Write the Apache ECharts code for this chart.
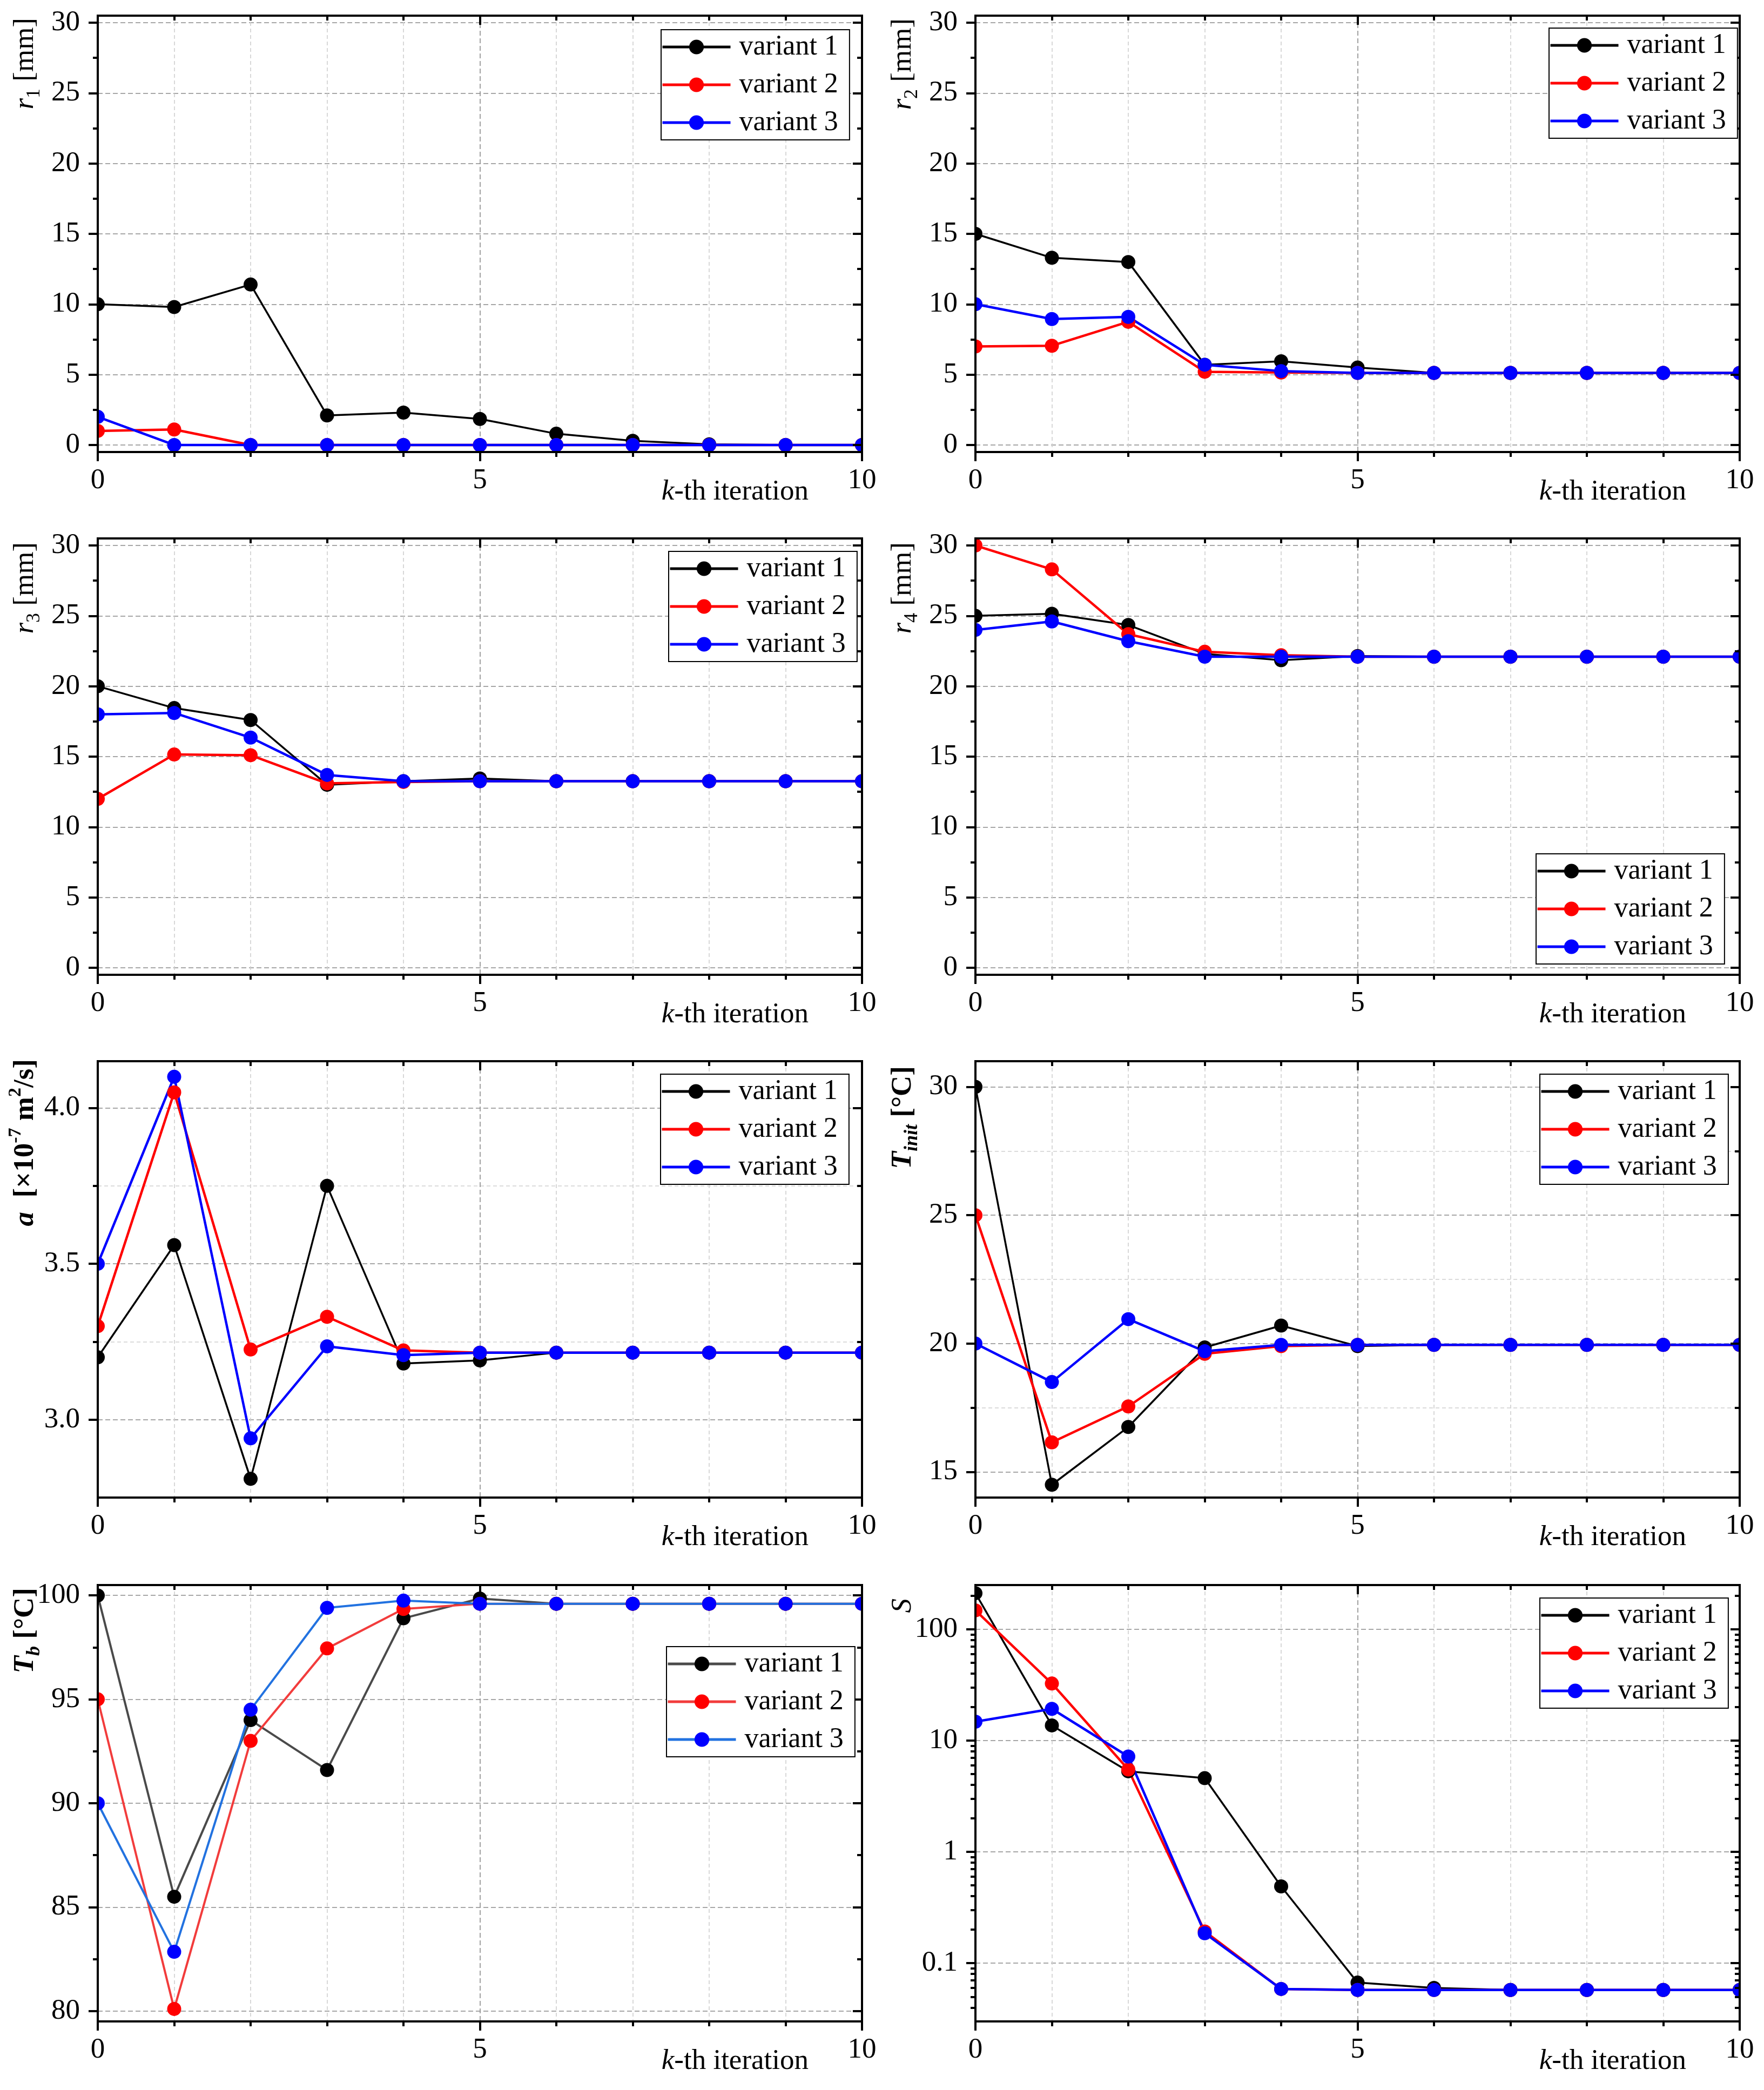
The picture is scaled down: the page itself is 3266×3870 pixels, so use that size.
<!DOCTYPE html>
<html>
<head>
<meta charset="utf-8">
<script src="https://cdn.jsdelivr.net/npm/echarts@6.0.0/dist/echarts.min.js"></script>
<style>
html,body{margin:0;padding:0;background:#ffffff;}
#chart{width:3266px;height:3870px;}
</style>
</head>
<body>
<div id="chart"></div>
<script>
// ---------------- data ----------------
const iterations = [0, 1, 2, 3, 4, 5, 6, 7, 8, 9, 10];
const seriesNames = ['variant 1', 'variant 2', 'variant 3'];

const r1Variant1 = [10.0, 9.8, 11.4, 2.1, 2.3, 1.85, 0.8, 0.3, 0.05, 0.0, 0.0];
const r1Variant2 = [1.0, 1.1, 0.0, 0.0, 0.0, 0.0, 0.0, 0.0, 0.0, 0.0, 0.0];
const r1Variant3 = [2.0, 0.0, 0.0, 0.0, 0.0, 0.0, 0.0, 0.0, 0.0, 0.0, 0.0];

const r2Variant1 = [15.0, 13.3, 13.0, 5.7, 5.95, 5.5, 5.12, 5.12, 5.12, 5.12, 5.12];
const r2Variant2 = [7.0, 7.05, 8.75, 5.2, 5.15, 5.12, 5.12, 5.12, 5.12, 5.12, 5.12];
const r2Variant3 = [10.0, 8.95, 9.1, 5.7, 5.25, 5.12, 5.12, 5.12, 5.12, 5.12, 5.12];

const r3Variant1 = [20.0, 18.45, 17.6, 13.0, 13.25, 13.45, 13.25, 13.25, 13.25, 13.25, 13.25];
const r3Variant2 = [12.0, 15.15, 15.1, 13.1, 13.2, 13.25, 13.25, 13.25, 13.25, 13.25, 13.25];
const r3Variant3 = [18.0, 18.1, 16.35, 13.7, 13.25, 13.25, 13.25, 13.25, 13.25, 13.25, 13.25];

const r4Variant1 = [25.0, 25.15, 24.35, 22.3, 21.85, 22.15, 22.1, 22.1, 22.1, 22.1, 22.1];
const r4Variant2 = [30.0, 28.3, 23.7, 22.45, 22.2, 22.1, 22.1, 22.1, 22.1, 22.1, 22.1];
const r4Variant3 = [24.0, 24.6, 23.2, 22.1, 22.1, 22.1, 22.1, 22.1, 22.1, 22.1, 22.1];

const aVariant1 = [3.20, 3.56, 2.81, 3.75, 3.18, 3.19, 3.215, 3.215, 3.215, 3.215, 3.215];
const aVariant2 = [3.30, 4.05, 3.225, 3.33, 3.222, 3.215, 3.215, 3.215, 3.215, 3.215, 3.215];
const aVariant3 = [3.50, 4.10, 2.94, 3.235, 3.207, 3.215, 3.215, 3.215, 3.215, 3.215, 3.215];

const tInitVariant1 = [30.0, 14.5, 16.75, 19.85, 20.7, 19.9, 19.95, 19.95, 19.95, 19.95, 19.95];
const tInitVariant2 = [25.0, 16.15, 17.55, 19.6, 19.9, 19.95, 19.95, 19.95, 19.95, 19.95, 19.95];
const tInitVariant3 = [20.0, 18.5, 20.95, 19.7, 19.95, 19.95, 19.95, 19.95, 19.95, 19.95, 19.95];

const tbVariant1 = [100.0, 85.5, 94.0, 91.6, 98.9, 99.85, 99.6, 99.6, 99.6, 99.6, 99.6];
const tbVariant2 = [95.0, 80.1, 93.0, 97.45, 99.35, 99.6, 99.6, 99.6, 99.6, 99.6, 99.6];
const tbVariant3 = [90.0, 82.85, 94.5, 99.4, 99.75, 99.6, 99.6, 99.6, 99.6, 99.6, 99.6];

const sVariant1 = [211, 13.7, 5.3, 4.6, 0.49, 0.067, 0.06, 0.0575, 0.0575, 0.0575, 0.0575];
const sVariant2 = [148, 32.6, 5.5, 0.193, 0.0587, 0.0575, 0.0575, 0.0575, 0.0575, 0.0575, 0.0575];
const sVariant3 = [14.8, 19.3, 7.2, 0.186, 0.0587, 0.0575, 0.0575, 0.0575, 0.0575, 0.0575, 0.0575];

// tick labels
const xTicks = [0, 5, 10];
const rTicks = [0, 5, 10, 15, 20, 25, 30];
const aTicks = [3.0, 3.5, 4.0];
const tInitTicks = [15, 20, 25, 30];
const tbTicks = [80, 85, 90, 95, 100];
const sTicks = [0.1, 1, 10, 100];
const sMinorTicks = [];
[0.01, 0.1, 1, 10, 100].forEach(d => { for (let m = 2; m <= 9; m++) { const v = +(d * m).toPrecision(3); if (v > 0.03 && v < 250) sMinorTicks.push(v); } });

// axis titles (rich text)
const yTitles = [
  '{i|r}{sub|1}{n| [mm]}',
  '{i|r}{sub|2}{n| [mm]}',
  '{i|r}{sub|3}{n| [mm]}',
  '{i|r}{sub|4}{n| [mm]}',
  '{bi|a}{b|  [×10}{bsup|-7}{b| m}{bsup|2}{b|/s]}',
  '{bi|T}{bsub|init}{b| [°C]}',
  '{bi|T}{bsub|b}{b| [°C]}',
  '{i|S}'
];
const xTitle = '{i|k}-th iteration';

// ---------------- layout / style ----------------
const FONT = 'Liberation Serif';
const colLeft = [181, 1806];
const rowTop = [29, 997, 1965, 2935];
const gridW = 1415, gridH = 808;

const stdLine = ['#000000', '#ff0000', '#0000ff'];
const tbLine = ['#4a4a4a', '#f23c3c', '#2272e0'];
const markerColors = ['#000000', '#ff0000', '#0000ff'];
const stdWidth = [3.5, 4.5, 4.5];
const tbWidth = [4, 4, 4];

const panels = [
  { values: [r1Variant1, r1Variant2, r1Variant3], type: 'value', min: -0.5, max: 30.5, split: 5, step: 5, ticks: rTicks, minor: 2, minorGrid: false, legend: [1224, 55], titleTop: 33, lc: stdLine, lw: stdWidth, fmt: v => String(v) },
  { values: [r2Variant1, r2Variant2, r2Variant3], type: 'value', min: -0.5, max: 30.5, split: 5, step: 5, ticks: rTicks, minor: 2, minorGrid: false, legend: [2868, 52], titleTop: 34, lc: stdLine, lw: stdWidth, fmt: v => String(v) },
  { values: [r3Variant1, r3Variant2, r3Variant3], type: 'value', min: -0.5, max: 30.5, split: 5, step: 5, ticks: rTicks, minor: 2, minorGrid: false, legend: [1238, 1021], titleTop: 1004, lc: stdLine, lw: stdWidth, fmt: v => String(v) },
  { values: [r4Variant1, r4Variant2, r4Variant3], type: 'value', min: -0.5, max: 30.5, split: 5, step: 5, ticks: rTicks, minor: 2, minorGrid: false, legend: [2844, 1581], titleTop: 1004, lc: stdLine, lw: stdWidth, fmt: v => String(v) },
  { values: [aVariant1, aVariant2, aVariant3], type: 'value', min: 2.75, max: 4.15, split: 3, step: 0.5, ticks: aTicks, minor: 2, minorGrid: true, legend: [1223, 1989], titleTop: 1961, lc: stdLine, lw: stdWidth, fmt: v => Number(v).toFixed(1) },
  { values: [tInitVariant1, tInitVariant2, tInitVariant3], type: 'value', min: 14, max: 31, split: 3, step: 5, ticks: tInitTicks, minor: 2, minorGrid: true, legend: [2851, 1989], titleTop: 1974, lc: stdLine, lw: stdWidth, fmt: v => String(v) },
  { values: [tbVariant1, tbVariant2, tbVariant3], type: 'value', min: 79.5, max: 100.5, split: 4, step: 5, ticks: tbTicks, minor: 2, minorGrid: false, legend: [1234, 3049], titleTop: 2940, lc: tbLine, lw: tbWidth, fmt: v => String(v) },
  { values: [sVariant1, sVariant2, sVariant3], type: 'log', min: 0.03, max: 250, ticks: sTicks, minorLog: sMinorTicks, legend: [2851, 2959], titleTop: 2960, lc: stdLine, lw: stdWidth, fmt: v => String(v) }
];

const axisLineStyle = { color: '#000', width: 4, cap: 'square' };
const tickStyle = { color: '#000', width: 4 };
const majorGrid = { color: '#8a8a8a', width: 1.6, type: [9, 5] };
const minorGridStyle = { color: '#cfcfcf', width: 1.6, type: [7, 5] };
const labelStyle = { fontFamily: FONT, fontSize: 53, color: '#000' };

const grids = [], xAxes = [], yAxes = [], series = [], legends = [], graphics = [];

panels.forEach((p, i) => {
  const col = i % 2, row = Math.floor(i / 2);
  const L = colLeft[col], T = rowTop[row];
  grids.push({ left: L, top: T, width: gridW, height: gridH, containLabel: false, show: false });

  // ---- x axes ----
  const xb = { gridIndex: i, type: 'value', min: 0, max: 10, interval: 5 };
  const xMain = xAxes.length;
  xAxes.push(Object.assign({}, xb, {
    position: 'bottom', z: 3,
    axisLine: { show: true, onZero: false, lineStyle: axisLineStyle },
    axisTick: { show: true, inside: false, length: 17, lineStyle: tickStyle },
    minorTick: { show: true, splitNumber: 5, length: 9, lineStyle: tickStyle },
    axisLabel: Object.assign({ show: true, margin: 53, verticalAlign: 'middle', customValues: xTicks }, labelStyle),
    splitLine: { show: false }, minorSplitLine: { show: false }
  }));
  xAxes.push(Object.assign({}, xb, {
    position: 'top', z: 3,
    axisLine: { show: true, onZero: false, lineStyle: axisLineStyle },
    axisTick: { show: true, inside: true, length: 17, lineStyle: tickStyle },
    minorTick: { show: true, splitNumber: 5, length: 9, lineStyle: tickStyle },
    axisLabel: { show: false }, splitLine: { show: false }, minorSplitLine: { show: false }
  }));
  xAxes.push(Object.assign({}, xb, {
    position: 'bottom', z: 0,
    axisLine: { show: false, onZero: false }, axisTick: { show: false },
    minorTick: { show: false, splitNumber: 5 }, axisLabel: { show: false },
    splitLine: { show: true, lineStyle: majorGrid },
    minorSplitLine: { show: true, lineStyle: minorGridStyle }
  }));

  // ---- y axes ----
  const yb = { gridIndex: i, type: p.type, min: p.min, max: p.max };
  if (p.type === 'log') { yb.logBase = 10; }
  else { yb.splitNumber = p.split; yb.minInterval = p.step; yb.maxInterval = p.step; }
  const isLin = p.type !== 'log';
  const yMain = yAxes.length;
  yAxes.push(Object.assign({}, yb, {
    position: 'left', z: 3,
    axisLine: { show: true, onZero: false, lineStyle: axisLineStyle },
    axisTick: { show: true, inside: false, length: 17, lineStyle: tickStyle, customValues: p.ticks },
    minorTick: { show: isLin, splitNumber: p.minor || 2, length: 9, lineStyle: tickStyle },
    axisLabel: Object.assign({ show: true, margin: 33, customValues: p.ticks, formatter: p.fmt }, labelStyle),
    splitLine: { show: false }, minorSplitLine: { show: false }
  }));
  yAxes.push(Object.assign({}, yb, {
    position: 'right', z: 3,
    axisLine: { show: true, onZero: false, lineStyle: axisLineStyle },
    axisTick: { show: true, inside: true, length: 17, lineStyle: tickStyle, customValues: p.ticks },
    minorTick: { show: isLin, splitNumber: p.minor || 2, length: 9, lineStyle: tickStyle },
    axisLabel: { show: false }, splitLine: { show: false }, minorSplitLine: { show: false }
  }));
  yAxes.push(Object.assign({}, yb, {
    position: 'left', z: 0,
    axisLine: { show: false, onZero: false },
    axisTick: { show: false, customValues: p.ticks },
    minorTick: { show: false, splitNumber: p.minor || 2 },
    axisLabel: { show: false },
    splitLine: { show: true, lineStyle: majorGrid, customValues: p.ticks },
    minorSplitLine: { show: !!p.minorGrid, lineStyle: minorGridStyle }
  }));
  if (!isLin) {
    yAxes.push(Object.assign({}, yb, {
      position: 'left', z: 3,
      axisLine: { show: false, onZero: false },
      axisTick: { show: true, inside: false, length: 9, lineStyle: tickStyle, customValues: p.minorLog },
      axisLabel: { show: false }, splitLine: { show: false }
    }));
    yAxes.push(Object.assign({}, yb, {
      position: 'right', z: 3,
      axisLine: { show: false, onZero: false },
      axisTick: { show: true, inside: true, length: 9, lineStyle: tickStyle, customValues: p.minorLog },
      axisLabel: { show: false }, splitLine: { show: false }
    }));
  }

  // ---- series ----
  const names = [];
  p.values.forEach((vals, s) => {
    const nm = seriesNames[s] + '|' + i;
    names.push(nm);
    series.push({
      type: 'line', name: nm, xAxisIndex: xMain, yAxisIndex: yMain,
      data: iterations.map((k, j) => [k, vals[j]]),
      symbol: 'circle', symbolSize: 26, showSymbol: true, showAllSymbol: true,
      lineStyle: { color: p.lc[s], width: p.lw[s] },
      itemStyle: { color: markerColors[s] },
      emphasis: { disabled: true },
      z: 2, clip: true, animation: false
    });
  });

  // ---- legend ----
  legends.push({
    orient: 'vertical', left: p.legend[0], top: p.legend[1], z: 6,
    data: names, formatter: n => n.split('|')[0],
    itemWidth: 126, itemHeight: 34, itemGap: 18,
    padding: [6, 21, 6, 0],
    borderColor: '#000', borderWidth: 2, borderRadius: 0, backgroundColor: '#ffffff',
    selectedMode: false,
    lineStyle: { width: 5 },
    textStyle: { fontFamily: FONT, fontSize: 52, color: '#000', lineHeight: 50, padding: [0, 0, 0, 11] }
  });

  // ---- masks that clip edge markers outside the frame ----
  graphics.push({ type: 'rect', silent: true, z: 2.5, shape: { x: L - 28, y: T - 14, width: 28, height: gridH + 28 }, style: { fill: '#ffffff' } });
  graphics.push({ type: 'rect', silent: true, z: 2.5, shape: { x: L + gridW, y: T - 14, width: 28, height: gridH + 28 }, style: { fill: '#ffffff' } });

  // ---- axis titles ----
  const base = { fontFamily: FONT, fontSize: 53, fill: '#000' };
  graphics.push({
    type: 'text', silent: true, z: 10, x: L - 134, y: p.titleTop, rotation: Math.PI / 2,
    style: Object.assign({}, base, {
      text: yTitles[i], align: 'right', verticalAlign: 'middle', lineHeight: 70,
      rich: {
        n: Object.assign({}, base, { lineHeight: 70 }),
        i: Object.assign({}, base, { fontStyle: 'italic', lineHeight: 70 }),
        sub: Object.assign({}, base, { fontSize: 36, verticalAlign: 'bottom' }),
        b: Object.assign({}, base, { fontWeight: 'bold', lineHeight: 70 }),
        bi: Object.assign({}, base, { fontWeight: 'bold', fontStyle: 'italic', lineHeight: 70 }),
        bsub: Object.assign({}, base, { fontWeight: 'bold', fontStyle: 'italic', fontSize: 36, verticalAlign: 'bottom' }),
        bsup: Object.assign({}, base, { fontWeight: 'bold', fontSize: 34, verticalAlign: 'top' })
      }
    })
  });
  graphics.push({
    type: 'text', silent: true, z: 10, x: L + 1316, y: T + gridH + 74,
    style: Object.assign({}, base, {
      text: xTitle, align: 'right', verticalAlign: 'middle',
      rich: { i: Object.assign({}, base, { fontStyle: 'italic' }) }
    })
  });
});

const chart = echarts.init(document.getElementById('chart'), null, { renderer: 'canvas', width: 3266, height: 3870 });
chart.setOption({
  backgroundColor: '#ffffff',
  animation: false,
  textStyle: { fontFamily: FONT },
  grid: grids,
  xAxis: xAxes,
  yAxis: yAxes,
  legend: legends,
  series: series,
  graphic: graphics
});
</script>
</body>
</html>
